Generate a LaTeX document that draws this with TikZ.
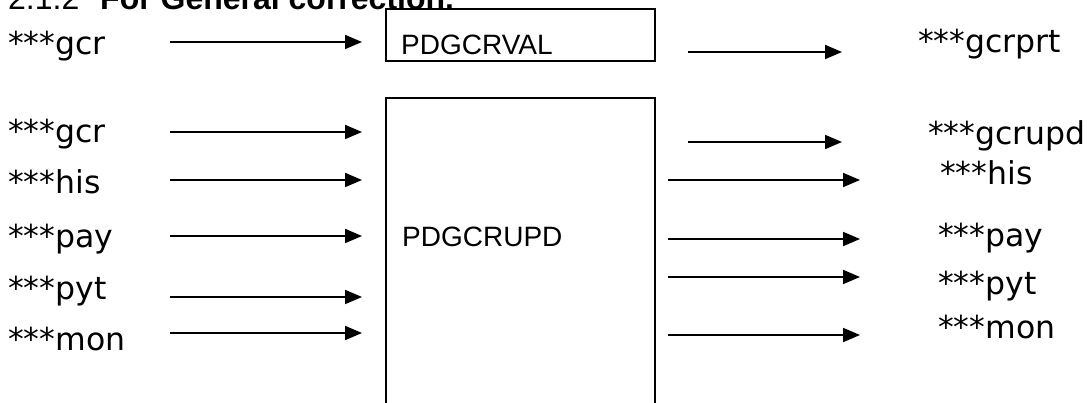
\documentclass[tikz,border=0pt]{standalone}
\usepackage{fontspec}
\setmainfont{DejaVu Sans}
\newfontfamily\arialfont{Liberation Sans}
\usetikzlibrary{arrows.meta}
\begin{document}
\begin{tikzpicture}[x=1pt,y=-1pt,
  lbl/.style={anchor=base west,inner sep=0pt,font=\fontsize{31.5}{36}\selectfont},
  boxlbl/.style={anchor=base west,inner sep=0pt,font=\arialfont\fontsize{28}{32}\selectfont},
  headlbl/.style={anchor=base west,inner sep=0pt,font=\arialfont\fontsize{32}{36}\selectfont},
  proc/.style={draw,line width=2pt,inner sep=0pt},
  flow/.style={line width=1.8pt,-{Triangle[length=17pt,width=14pt]}}]
\useasboundingbox (0,0) rectangle (1087,403);
\clip (0,0) rectangle (1087,403);

% heading (cut off at the top, as in the reference)
\node[headlbl] (num) at (8,10) {2.1.2};
\node[headlbl,font=\arialfont\bfseries\fontsize{32}{36}\selectfont] (head) at (100,10) {For General correction.};

% process boxes
\node[proc,minimum width=269pt,minimum height=52pt] (val) at (520.5,35) {};
\node[boxlbl] (valt) at (401,55) {PDGCRVAL};
\node[proc,minimum width=269pt,minimum height=340pt] (upd) at (520.5,268) {};
\node[boxlbl] (updt) at (402,247) {PDGCRUPD};

% left labels
\node[lbl] (l0) at (8,55) {***gcr};
\node[lbl] (l1) at (8,143) {***gcr};
\node[lbl] (l2) at (8,194) {***his};
\node[lbl] (l3) at (8,248) {***pay};
\node[lbl] (l4) at (8,300) {***pyt};
\node[lbl] (l5) at (8,350) {***mon};

% right labels
\node[lbl] (r0) at (918,53) {***gcrprt};
\node[lbl] (r1) at (928,145) {***gcrupd};
\node[lbl] (r2) at (940,185) {***his};
\node[lbl] (r3) at (938,247) {***pay};
\node[lbl] (r4) at (938,295) {***pyt};
\node[lbl] (r5) at (938,338) {***mon};

% left arrow ends
\coordinate (a0s) at (170,42);  \coordinate (a0e) at (362,42);
\coordinate (a1s) at (170,132); \coordinate (a1e) at (362,132);
\coordinate (a2s) at (170,180); \coordinate (a2e) at (362,180);
\coordinate (a3s) at (170,236); \coordinate (a3e) at (362,236);
\coordinate (a4s) at (170,297); \coordinate (a4e) at (362,297);
\coordinate (a5s) at (170,333); \coordinate (a5e) at (362,333);

% right arrow ends
\coordinate (b0s) at (688,52);  \coordinate (b0e) at (842,52);
\coordinate (b1s) at (688,142); \coordinate (b1e) at (842,142);
\coordinate (b2s) at (668,180); \coordinate (b2e) at (860,180);
\coordinate (b3s) at (668,239); \coordinate (b3e) at (860,239);
\coordinate (b4s) at (668,277); \coordinate (b4e) at (860,277);
\coordinate (b5s) at (668,335); \coordinate (b5e) at (860,335);

\foreach \i in {0,...,5}{
  \draw[flow] (a\i s) -- (a\i e);
  \draw[flow] (b\i s) -- (b\i e);
}
\end{tikzpicture}
\end{document}
